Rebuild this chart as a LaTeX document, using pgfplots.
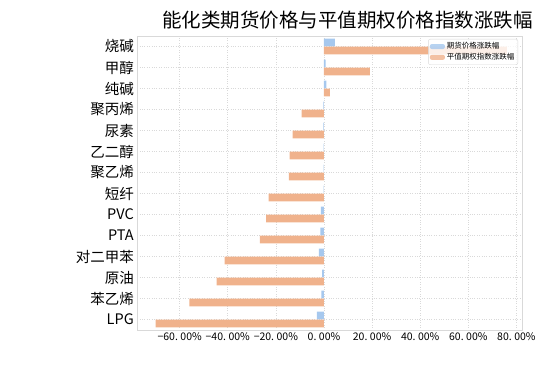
\documentclass[border=0pt]{standalone}
\usepackage{pgfplots}
\pgfplotsset{compat=1.18}
\usepackage{fontspec}
\setmainfont{Noto Sans CJK SC}
\definecolor{cblue}{HTML}{A6C8EE}
\definecolor{corange}{HTML}{F0B28C}
\begin{document}
\begin{tikzpicture}
\begin{axis}[
  at={(0,0)}, anchor=south west,
  scale only axis, width=385.4bp, height=294bp,
  xmin=-77.6, xmax=82.6, ymin=-0.5, ymax=13.5,
  xtick={-60,-40,-20,0,20,40,60,80},
  xticklabels={−60.\hspace{2.5bp}00\%,−40.\hspace{2.5bp}00\%,−20.\hspace{2.5bp}00\%,0.\hspace{2.5bp}00\%,20.\hspace{2.5bp}00\%,40.\hspace{2.5bp}00\%,60.\hspace{2.5bp}00\%,80.\hspace{2.5bp}00\%},
  ytick={0,...,13},
  yticklabels={LPG,苯乙烯,原油,对二甲苯,PTA,PVC,短纤,聚乙烯,乙二醇,尿素,聚丙烯,纯碱,甲醇,烧碱},
  xticklabel style={font=\fontsize{10.5bp}{12bp}\selectfont, yshift=1bp},
  yticklabel style={font=\fontsize{14.5bp}{16bp}\selectfont},
  major tick length=0pt,
  axis line style={gray!30},
  grid=major,
  major grid style={dotted, gray!30, line width=0.7pt},
  xbar, bar width=0.36,
  title={能化类期货价格与平值期权价格指数涨跌幅},
  title style={font=\fontsize{19.5bp}{21bp}\selectfont, at={(0.545,1)}, anchor=south, yshift=-3bp},
  legend style={at={(0.988,0.99)}, anchor=north east, font=\fontsize{7.5bp}{9bp}\selectfont,
    fill=white, fill opacity=0.8, text opacity=1, draw=gray!30, rounded corners=2pt,
    inner sep=1.5pt, row sep=-1pt},
  legend cell align=left,
  area legend,
  legend image code/.code={\fill[#1] (0bp,-2.5bp) rectangle (15bp,2.5bp);},
]
\addplot[fill=cblue, draw=none, bar shift=0.19] coordinates {
(-3.0,0) (-1.1,1) (-0.8,2) (-2.1,3) (-1.5,4) (-1.25,5) (-0.2,6) (-0.2,7) (-0.2,8) (-0.3,9) (-0.3,10) (1.0,11) (0.7,12) (4.5,13)};
\addplot[fill=corange, draw=none, bar shift=-0.19] coordinates {
(-70.0,0) (-56.0,1) (-44.6,2) (-41.3,3) (-26.6,4) (-24.1,5) (-23.0,6) (-14.6,7) (-14.3,8) (-13.0,9) (-9.3,10) (2.4,11) (19.1,12) (76.0,13)};
\legend{期货价格涨跌幅,平值期权指数涨跌幅}
\end{axis}
\useasboundingbox (-137.3bp,-37bp) rectangle (412.7bp,330bp);
\end{tikzpicture}
\end{document}
